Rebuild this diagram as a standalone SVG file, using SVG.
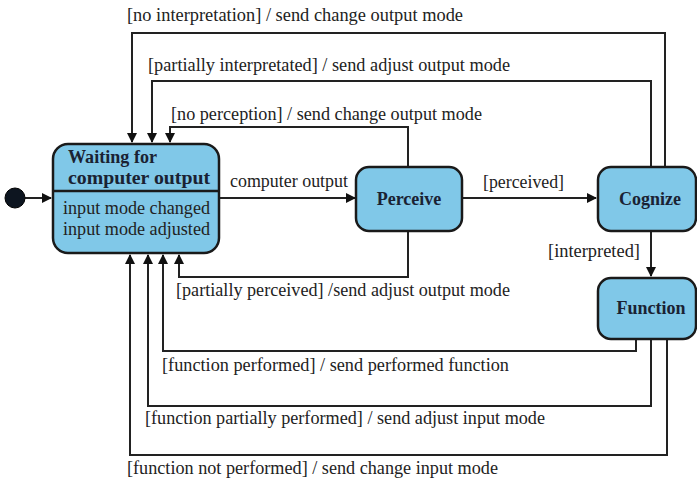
<svg xmlns="http://www.w3.org/2000/svg" width="697" height="482" viewBox="0 0 697 482">
<style>
.node{fill:#80C8E8;stroke:#1a1a1a;stroke-width:2.5}
.t{font-family:"Liberation Serif","Times New Roman",serif;font-size:18px;fill:#222}
.b{font-family:"Liberation Serif","Times New Roman",serif;font-size:18px;font-weight:bold;fill:#1a2233}
.c{fill:none;stroke:#222;stroke-width:2}
</style>
<defs>
<marker id="ah" markerWidth="10" markerHeight="10" refX="9" refY="5" orient="auto" markerUnits="userSpaceOnUse">
<path d="M0,0 L10,5 L0,10 z" fill="#111"/>
</marker>
</defs>
<rect width="697" height="482" fill="#fff"/>
<g id="connectors">
<path class="c" d="M25,198 H51" marker-end="url(#ah)"/>
<path class="c" d="M220,198 H355" marker-end="url(#ah)"/>
<path class="c" d="M463,198 H596" marker-end="url(#ah)"/>
<path class="c" d="M651,231 V276" marker-end="url(#ah)"/>
<path class="c" d="M665,166 V33 H132 V142" marker-end="url(#ah)"/>
<path class="c" d="M651,166 V81 H152 V142" marker-end="url(#ah)"/>
<path class="c" d="M408,166 V127 H170 V142" marker-end="url(#ah)"/>
<path class="c" d="M408,232 V277 H179 V255" marker-end="url(#ah)"/>
<path class="c" d="M636,339 V351 H163 V255" marker-end="url(#ah)"/>
<path class="c" d="M651,339 V406 H148 V255" marker-end="url(#ah)"/>
<path class="c" d="M667,339 V455 H130 V255" marker-end="url(#ah)"/>
</g>
<g id="labels">
<text class="t" x="127" y="21" textLength="336" lengthAdjust="spacingAndGlyphs">[no interpretation] / send change output mode</text>
<text class="t" x="148" y="71" textLength="362" lengthAdjust="spacingAndGlyphs">[partially interpretated] / send adjust output mode</text>
<text class="t" x="171" y="120" textLength="311" lengthAdjust="spacingAndGlyphs">[no perception] / send change output mode</text>
<text class="t" x="230" y="187" textLength="118" lengthAdjust="spacingAndGlyphs">computer output</text>
<text class="t" x="483" y="188" textLength="81" lengthAdjust="spacingAndGlyphs">[perceived]</text>
<text class="t" x="548" y="257" textLength="92" lengthAdjust="spacingAndGlyphs">[interpreted]</text>
<text class="t" x="176" y="296" textLength="334" lengthAdjust="spacingAndGlyphs">[partially perceived] /send adjust output mode</text>
<text class="t" x="162" y="371" textLength="347" lengthAdjust="spacingAndGlyphs">[function performed] / send performed function</text>
<text class="t" x="145" y="424" textLength="400" lengthAdjust="spacingAndGlyphs">[function partially performed] / send adjust input mode</text>
<text class="t" x="127" y="474" textLength="371" lengthAdjust="spacingAndGlyphs">[function not performed] / send change input mode</text>
</g>
<g id="initial">
<circle cx="15" cy="198" r="10" fill="#0d1520" stroke="#000" stroke-width="1"/>
</g>
<g id="waiting">
<rect class="node" x="53" y="144" width="166" height="109" rx="15"/>
<line x1="53" y1="191" x2="219" y2="191" stroke="#1a1a1a" stroke-width="2.5"/>
<text class="b" x="68" y="163" textLength="89" lengthAdjust="spacingAndGlyphs">Waiting for</text>
<text class="b" x="68" y="184" textLength="142" lengthAdjust="spacingAndGlyphs">computer output</text>
<text class="t" x="63" y="214" textLength="147" lengthAdjust="spacingAndGlyphs">input mode changed</text>
<text class="t" x="63" y="235" textLength="147" lengthAdjust="spacingAndGlyphs">input mode adjusted</text>
</g>
<g id="perceive">
<rect class="node" x="356" y="167" width="106" height="64" rx="13"/>
<text class="b" x="409" y="205" text-anchor="middle">Perceive</text>
</g>
<g id="cognize">
<rect class="node" x="598" y="167" width="98" height="64" rx="13"/>
<text class="b" x="650" y="205" text-anchor="middle">Cognize</text>
</g>
<g id="function">
<rect class="node" x="598" y="278" width="98" height="61" rx="13"/>
<text class="b" x="651" y="314" text-anchor="middle">Function</text>
</g>
</svg>
